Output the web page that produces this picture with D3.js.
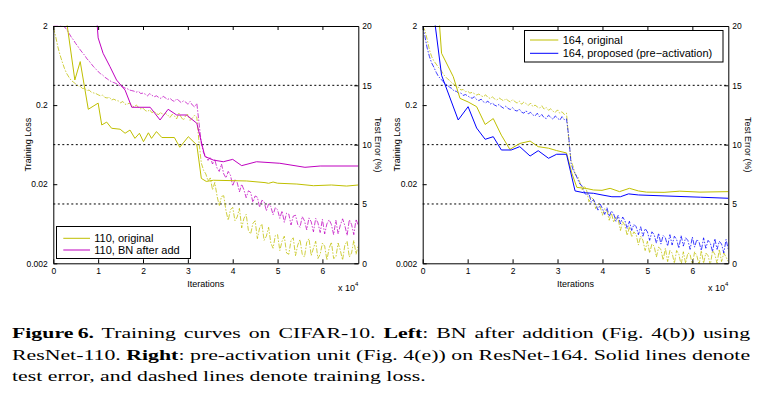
<!DOCTYPE html>
<html>
<head>
<meta charset="utf-8">
<script src="https://cdn.jsdelivr.net/npm/d3@7"></script>
<style>
    body { margin: 0; background: #fff; }
    #wrap { position: relative; width: 761px; height: 397px; overflow: hidden; }
    #chart { position: absolute; left: 0; top: 0; }
    .cap { position: absolute; left: 12px; width: 508px; font: 15px "Liberation Serif", serif; line-height: 15px;
           color: #000; transform: scaleX(1.453); transform-origin: 0 0; }
    .cap.j { text-align: justify; text-align-last: justify; }
    .axis text { font-family: "Liberation Sans", Arial, sans-serif; font-size: 8.5px; fill: #000; }
    .lbl { font-family: "Liberation Sans", Arial, sans-serif; font-size: 9px; fill: #000; }
    .leg { font-family: "Liberation Sans", Arial, sans-serif; font-size: 11px; fill: #000; }
</style>
</head>
<body>
<div id="wrap"><svg id="chart" width="761" height="397"></svg></div>
<script>
// training loss is logged every 500 iterations (x in units of 1e4)
const iters = d3.range(137).map(i => i * 0.05);

// left: ResNet-110
const loss110 = [
    1.9, 1.5, 1.1, 0.86, 0.7, 0.58, 0.5, 0.45, 0.41, 0.39,
    0.37, 0.35, 0.345, 0.325, 0.325, 0.305, 0.31, 0.29, 0.285, 0.28,
    0.27, 0.262, 0.268, 0.25, 0.246, 0.252, 0.232, 0.238, 0.229, 0.226,
    0.214, 0.222, 0.205, 0.206, 0.212, 0.196, 0.19, 0.2, 0.188, 0.179,
    0.183, 0.171, 0.166, 0.175, 0.16, 0.168, 0.155, 0.152, 0.163, 0.147,
    0.157, 0.15, 0.139, 0.153, 0.146, 0.134, 0.158, 0.141, 0.129, 0.147,
    0.152, 0.128, 0.137, 0.149, 0.14, 0.066, 0.037, 0.03, 0.027, 0.022,
    0.024, 0.017, 0.021, 0.0143, 0.0106, 0.014, 0.0143, 0.0092, 0.007, 0.0095,
    0.0102, 0.0069, 0.0077, 0.0099, 0.0056, 0.0074, 0.0083, 0.0052, 0.0047, 0.0064,
    0.0069, 0.0041, 0.0056, 0.0063, 0.0039, 0.0044, 0.0057, 0.0036, 0.0031, 0.0045,
    0.0046, 0.0029, 0.0038, 0.0044, 0.0027, 0.0026, 0.0039, 0.0042, 0.0025, 0.0034,
    0.004, 0.0026, 0.0024, 0.0037, 0.0041, 0.0025, 0.0031, 0.0038, 0.0023, 0.0026,
    0.0036, 0.0033, 0.0022, 0.0031, 0.0037, 0.0023, 0.0024, 0.0036, 0.0029, 0.0022,
    0.0034, 0.0038, 0.0024, 0.0027, 0.0039, 0.0026, 0.0034
];
const loss110bn = [
    2.0, 2.0, 2.0, 2.0, 2.0, 1.95, 1.8, 1.62, 1.45, 1.33,
    1.2, 1.1, 1.0, 0.92, 0.85, 0.77, 0.72, 0.66, 0.61, 0.57,
    0.53, 0.5, 0.48, 0.45, 0.43, 0.41, 0.395, 0.385, 0.375, 0.36,
    0.35, 0.34, 0.328, 0.322, 0.31, 0.305, 0.3, 0.292, 0.298, 0.28,
    0.284, 0.275, 0.262, 0.279, 0.266, 0.255, 0.262, 0.25, 0.243, 0.258,
    0.247, 0.236, 0.244, 0.23, 0.222, 0.24, 0.228, 0.215, 0.226, 0.219,
    0.205, 0.222, 0.2, 0.19, 0.21, 0.118, 0.065, 0.05, 0.045, 0.04,
    0.044, 0.036, 0.041, 0.032, 0.029, 0.036, 0.027, 0.024, 0.029, 0.026,
    0.019, 0.023, 0.021, 0.016, 0.02, 0.017, 0.0135, 0.0165, 0.0158, 0.0118,
    0.0142, 0.0137, 0.0102, 0.0125, 0.0121, 0.0092, 0.0113, 0.0104, 0.0082, 0.0101,
    0.0095, 0.0074, 0.0092, 0.0066, 0.0086, 0.0084, 0.0061, 0.0079, 0.0081, 0.0062,
    0.0057, 0.0078, 0.0069, 0.0053, 0.0075, 0.0067, 0.005, 0.0074, 0.0065, 0.0049,
    0.0072, 0.0047, 0.0063, 0.0071, 0.0062, 0.0046, 0.007, 0.0047, 0.0061, 0.0073,
    0.006, 0.0045, 0.0071, 0.0062, 0.0046, 0.0072, 0.006
];
// test error [iteration (1e4), error %]
const err110 = [
    [0.3, 20.3], [0.48, 15.45], [0.6, 17.0], [0.78, 12.98], [1.0, 13.5], [1.08, 11.66], [1.19, 11.9],
    [1.3, 11.38], [1.49, 11.3], [1.6, 10.96], [1.71, 11.23], [1.82, 10.53], [1.92, 10.96], [2.01, 10.25],
    [2.12, 11.0], [2.19, 10.53], [2.3, 11.1], [2.42, 10.6], [2.7, 10.6], [2.82, 9.78], [3.01, 10.67],
    [3.2, 9.97], [3.3, 7.16], [3.41, 6.9], [3.57, 7.0], [4.31, 6.94], [4.72, 6.8], [4.8, 6.74],
    [4.9, 6.85], [5.0, 6.75], [5.43, 6.68], [5.8, 6.54], [6.2, 6.6], [6.54, 6.51], [6.8, 6.6]
];
const err110bn = [
    [0.97, 20.5], [1.0, 19.0], [1.11, 17.7], [1.26, 16.6], [1.41, 15.45], [1.6, 14.6], [1.75, 13.15],
    [2.16, 13.15], [2.38, 12.08], [2.56, 12.98], [2.75, 12.5], [2.97, 12.5], [3.2, 11.8], [3.38, 9.0],
    [3.57, 8.7], [3.79, 8.56], [4.0, 8.76], [4.2, 8.23], [4.53, 8.56], [5.05, 8.43], [5.61, 8.09],
    [5.95, 8.2], [6.8, 8.2]
];

// right: ResNet-164
const loss164 = [
    2.0, 1.75, 1.35, 1.0, 0.82, 0.72, 0.66, 0.6, 0.56, 0.5,
    0.46, 0.43, 0.41, 0.38, 0.365, 0.34, 0.335, 0.31, 0.315, 0.295,
    0.3, 0.283, 0.29, 0.279, 0.268, 0.276, 0.262, 0.255, 0.27, 0.25,
    0.243, 0.254, 0.24, 0.232, 0.246, 0.236, 0.226, 0.241, 0.228, 0.219,
    0.234, 0.222, 0.212, 0.225, 0.205, 0.218, 0.209, 0.198, 0.212, 0.192,
    0.2, 0.19, 0.183, 0.196, 0.178, 0.186, 0.172, 0.18, 0.167, 0.162,
    0.174, 0.158, 0.165, 0.152, 0.158, 0.072, 0.04, 0.033, 0.026, 0.025,
    0.021, 0.017, 0.019, 0.0165, 0.012, 0.0138, 0.0128, 0.0098, 0.0112, 0.0104,
    0.0081, 0.0098, 0.0092, 0.007, 0.0086, 0.0066, 0.0078, 0.0072, 0.0052, 0.0067,
    0.006, 0.0045, 0.0058, 0.0043, 0.005, 0.0046, 0.0034, 0.0044, 0.0039, 0.0029,
    0.0038, 0.0027, 0.0035, 0.0033, 0.0024, 0.0032, 0.003, 0.0022, 0.0031, 0.0021,
    0.0029, 0.0027, 0.002, 0.0029, 0.0026, 0.0019, 0.0028, 0.002, 0.0027, 0.0026,
    0.0019, 0.0028, 0.0025, 0.0019, 0.0029, 0.002, 0.0027, 0.0025, 0.0019, 0.0029,
    0.0026, 0.002, 0.003, 0.0021, 0.0027, 0.0024, 0.0021
];
const loss164pre = [
    2.0, 1.47, 1.05, 0.82, 0.68, 0.6, 0.52, 0.46, 0.43, 0.4,
    0.37, 0.36, 0.335, 0.325, 0.3, 0.3, 0.28, 0.285, 0.265, 0.272,
    0.262, 0.25, 0.244, 0.255, 0.235, 0.228, 0.238, 0.22, 0.214, 0.225,
    0.206, 0.212, 0.2, 0.194, 0.205, 0.19, 0.183, 0.195, 0.181, 0.176,
    0.186, 0.172, 0.168, 0.178, 0.163, 0.158, 0.17, 0.155, 0.162, 0.15,
    0.146, 0.158, 0.142, 0.152, 0.139, 0.135, 0.149, 0.14, 0.132, 0.146,
    0.137, 0.129, 0.143, 0.131, 0.134, 0.08, 0.037, 0.03, 0.027, 0.023,
    0.02, 0.019, 0.0155, 0.0145, 0.0152, 0.0118, 0.0128, 0.0112, 0.0094, 0.0112,
    0.0098, 0.0083, 0.0101, 0.0078, 0.0092, 0.0084, 0.0068, 0.0081, 0.0063, 0.0077,
    0.0069, 0.0055, 0.0068, 0.0052, 0.0062, 0.0058, 0.0046, 0.0058, 0.0044, 0.0055,
    0.005, 0.0039, 0.005, 0.0046, 0.0036, 0.0048, 0.0035, 0.0045, 0.0042, 0.0033,
    0.0046, 0.0034, 0.0044, 0.004, 0.0031, 0.0045, 0.0033, 0.0042, 0.0039, 0.003,
    0.0043, 0.0032, 0.004, 0.0037, 0.0029, 0.0042, 0.0031, 0.0039, 0.0036, 0.0028,
    0.0041, 0.003, 0.0038, 0.0035, 0.0027, 0.004, 0.003
];
const err164 = [
    [0.37, 20.3], [0.42, 17.7], [0.68, 15.73], [0.83, 13.9], [1.01, 13.6], [1.2, 13.2], [1.39, 11.7],
    [1.57, 12.2], [1.75, 10.8], [1.94, 9.6], [2.16, 10.1], [2.39, 10.3], [2.57, 9.83], [2.8, 9.7],
    [2.98, 9.5], [3.2, 9.3], [3.32, 7.58], [3.43, 6.4], [3.65, 6.3], [3.8, 6.18], [3.99, 6.15],
    [4.17, 6.32], [4.38, 6.04], [4.6, 6.32], [4.8, 6.1], [4.98, 6.0], [5.37, 5.98], [5.72, 6.08],
    [6.17, 6.0], [6.8, 6.04]
];
const err164pre = [
    [0.27, 20.3], [0.42, 15.85], [0.79, 12.08], [1.01, 13.2], [1.2, 11.4], [1.39, 10.45], [1.57, 10.67],
    [1.75, 9.55], [1.97, 9.55], [2.16, 9.83], [2.39, 9.04], [2.57, 9.49], [2.8, 8.85], [2.98, 9.19],
    [3.2, 9.19], [3.39, 6.1], [3.58, 5.95], [3.8, 5.9], [3.99, 5.76], [4.21, 5.61], [4.4, 5.61],
    [4.58, 5.85], [4.8, 5.76], [5.37, 5.68], [6.18, 5.57], [6.8, 5.48]
];

const xTicks = [0, 1, 2, 3, 4, 5, 6];
const lossTicks = [0.002, 0.02, 0.2, 2];
const errTicks = [0, 5, 10, 15, 20];
const gridTicks = [5, 10, 15];

const olive = '#bfbf00', magenta = '#bf00bf', blue = '#0000ff';

const panels = [
    {
        left: 53.3, right: 358.3, id: 'l',
        series: [
            { name: '110, original', color: olive, loss: loss110, err: err110 },
            { name: '110, BN after add', color: magenta, loss: loss110bn, err: err110bn }
        ],
        legend: { x: 56.5, y: 226.5, w: 134, h: 32, rows: [238.3, 250], line: [63.3, 90], tx: 94.3 }
    },
    {
        left: 422.7, right: 728.3, id: 'r',
        series: [
            { name: '164, original', color: olive, loss: loss164, err: err164 },
            { name: '164, proposed (pre\u2212activation)', color: blue, loss: loss164pre, err: err164pre }
        ],
        legend: { x: 524.5, y: 30.5, w: 198.5, h: 31.5, rows: [40, 53.3], line: [530, 558.3], tx: 562.7 }
    }
];

const plotTop = 26, plotBottom = 263.3;
const svg = d3.select('#chart');

panels.forEach(p => {
    const x = d3.scaleLinear().domain([0, 6.8]).range([p.left, p.right]);
    const yLoss = d3.scaleLog().domain([0.002, 2]).range([plotBottom, plotTop]);
    const yErr = d3.scaleLinear().domain([0, 20]).range([plotBottom, plotTop]);

    const g = svg.append('g');

    g.append('clipPath').attr('id', 'clip-' + p.id)
        .append('rect')
        .attr('x', p.left).attr('y', plotTop - 0.5)
        .attr('width', p.right - p.left).attr('height', plotBottom - plotTop + 1);

    // dotted grid (test error)
    g.append('g').selectAll('line')
        .data(gridTicks)
        .join('line')
        .attr('x1', p.left).attr('x2', p.right)
        .attr('y1', d => yErr(d)).attr('y2', d => yErr(d))
        .attr('stroke', '#000').attr('stroke-width', 1)
        .attr('stroke-dasharray', '2,2.5');

    const plot = g.append('g').attr('clip-path', `url(#clip-${p.id})`);

    // training loss: dash-dot
    const lossLine = d3.line()
        .x((d, i) => x(iters[i]))
        .y(d => yLoss(d));
    p.series.forEach(s => {
        plot.append('path')
            .attr('d', lossLine(s.loss))
            .attr('fill', 'none')
            .attr('stroke', s.color)
            .attr('stroke-width', 1)
            .attr('stroke-opacity', 0.75)
            .attr('stroke-dasharray', '5,1.5,1.5,1.5');
    });

    // test error: solid
    const errLine = d3.line()
        .x(d => x(d[0]))
        .y(d => yErr(d[1]));
    p.series.forEach(s => {
        plot.append('path')
            .attr('d', errLine(s.err))
            .attr('fill', 'none')
            .attr('stroke', s.color)
            .attr('stroke-width', 1);
    });

    // axes, ticks inside
    g.append('g').attr('class', 'axis')
        .attr('transform', `translate(0,${plotBottom})`)
        .call(d3.axisBottom(x).tickValues(xTicks).tickSize(-4).tickSizeOuter(0).tickPadding(4.5).tickFormat(d3.format('d')));
    g.append('g').attr('class', 'axis')
        .attr('transform', `translate(0,${plotTop})`)
        .call(d3.axisTop(x).tickValues(xTicks).tickSize(-4).tickSizeOuter(0).tickFormat(''));
    g.append('g').attr('class', 'axis')
        .attr('transform', `translate(${p.left},0)`)
        .call(d3.axisLeft(yLoss).tickValues(lossTicks).tickSize(-4).tickSizeOuter(0).tickPadding(5.5).tickFormat(d => String(d)));
    g.append('g').attr('class', 'axis')
        .attr('transform', `translate(${p.right},0)`)
        .call(d3.axisRight(yErr).tickValues(errTicks).tickSize(-4).tickSizeOuter(0).tickPadding(4).tickFormat(d3.format('d')));
    g.selectAll('.axis .domain').attr('stroke', '#000');
    g.selectAll('.axis line').attr('stroke', '#000');

    // axis labels
    g.append('text').attr('class', 'lbl')
        .attr('transform', `translate(${p.left - 22.8},${(plotTop + plotBottom) / 2}) rotate(-90)`)
        .attr('text-anchor', 'middle')
        .text('Training Loss');
    g.append('text').attr('class', 'lbl')
        .attr('transform', `translate(${p.right + 16.2},${(plotTop + plotBottom) / 2}) rotate(90)`)
        .attr('text-anchor', 'middle')
        .text('Test Error (%)');
    g.append('text').attr('class', 'lbl')
        .attr('x', (p.left + p.right) / 2).attr('y', 286.5)
        .attr('text-anchor', 'middle')
        .text('Iterations');
    const mult = g.append('text').attr('class', 'lbl')
        .attr('x', p.right).attr('y', 290.7)
        .attr('text-anchor', 'end');
    mult.append('tspan').text('x 10');
    mult.append('tspan').attr('dy', -5).attr('font-size', '6px').text('4');

    // legend
    const L = p.legend;
    const leg = g.append('g');
    leg.append('rect')
        .attr('x', L.x).attr('y', L.y).attr('width', L.w).attr('height', L.h)
        .attr('fill', '#fff').attr('stroke', '#000').attr('stroke-width', 1);
    p.series.forEach((s, i) => {
        leg.append('line')
            .attr('x1', L.line[0]).attr('x2', L.line[1])
            .attr('y1', L.rows[i]).attr('y2', L.rows[i])
            .attr('stroke', s.color).attr('stroke-width', 1);
        leg.append('text').attr('class', 'leg')
            .attr('x', L.tx).attr('y', L.rows[i] + 3.8)
            .text(s.name);
    });
});

// caption
const captionLines = [
    { top: 326.1, just: true, html: '<b>Figure\u20096.</b> Training curves on CIFAR-10. <b>Left</b>: BN after addition (Fig. 4(b)) using' },
    { top: 348.1, just: true, html: 'ResNet-110. <b>Right</b>: pre-activation unit (Fig. 4(e)) on ResNet-164. Solid lines denote' },
    { top: 368.8, just: false, html: 'test error, and dashed lines denote training loss.' }
];
d3.select('#wrap').selectAll('div.cap')
    .data(captionLines)
    .join('div')
    .attr('class', d => d.just ? 'cap j' : 'cap')
    .style('top', d => d.top + 'px')
    .html(d => d.html);
</script>
</body>
</html>
